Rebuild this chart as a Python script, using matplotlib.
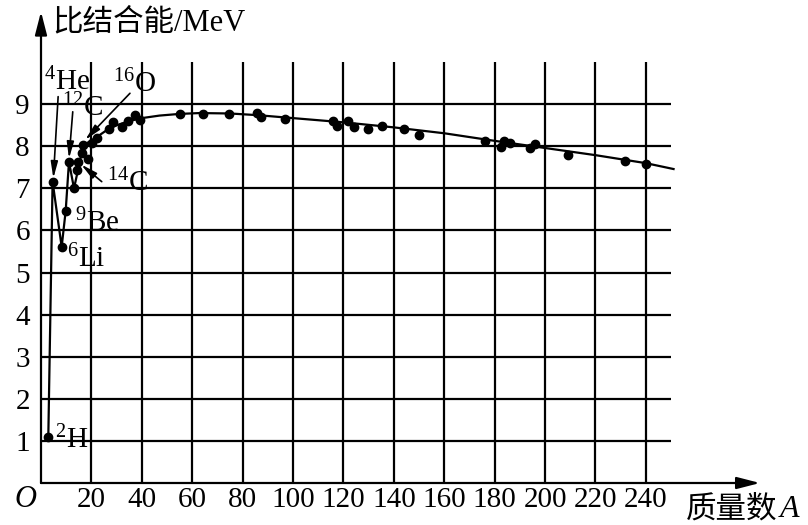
import matplotlib
matplotlib.use("Agg")
import matplotlib.pyplot as plt

plt.rcParams["font.family"] = ["Liberation Serif", "Noto Sans CJK SC"]
plt.rcParams["mathtext.fontset"] = "custom"
plt.rcParams["mathtext.rm"] = "Liberation Serif"
plt.rcParams["mathtext.it"] = "Liberation Serif:italic"

# mass number ticks and binding energy ticks
x_ticks = [20, 40, 60, 80, 100, 120, 140, 160, 180, 200, 220, 240]
y_ticks = [1, 2, 3, 4, 5, 6, 7, 8, 9]

# measured nuclides (mass number A, binding energy per nucleon in MeV)
point_a = [2.9, 4.6, 8.2, 9.8, 11.1, 13.1, 14.2, 14.8, 16.1, 16.8, 18.8, 20.1,
           22.1, 27.0, 28.7, 32.0, 34.6, 37.3, 39.3, 55.2, 64.2, 74.7, 85.6,
           87.3, 96.8, 116.0, 117.6, 122.0, 124.3, 129.9, 135.2, 144.0, 150.1,
           176.3, 182.4, 183.9, 186.1, 194.0, 196.0, 209.3, 231.7, 240.0]
point_e = [1.10, 7.16, 5.61, 6.47, 7.63, 7.00, 7.43, 7.63, 7.83, 8.03, 7.71, 8.07,
           8.19, 8.42, 8.58, 8.46, 8.61, 8.74, 8.62, 8.76, 8.76, 8.76, 8.78,
           8.70, 8.66, 8.60, 8.49, 8.60, 8.46, 8.42, 8.49, 8.41, 8.27,
           8.12, 7.99, 8.12, 8.07, 7.95, 8.05, 7.80, 7.66, 7.57]

# trend curve through the points
curve_a = [2.9, 4.6, 8.2, 9.8, 11.1, 13.1, 16.8, 19.5, 22.1, 26.0, 30.0, 35.0,
           40.0, 47.0, 55.0, 63.0, 75.0, 86.0, 100.0, 120.0, 140.0, 160.0,
           180.0, 200.0, 220.0, 240.0, 251.0]
curve_e = [1.10, 7.16, 5.61, 6.47, 7.63, 7.00, 8.03, 8.12, 8.22, 8.38, 8.50, 8.60,
           8.67, 8.73, 8.77, 8.79, 8.78, 8.74, 8.67, 8.57, 8.45, 8.31,
           8.13, 7.96, 7.79, 7.60, 7.46]

fig = plt.figure(figsize=(8.08, 5.25), dpi=100)
ax = fig.add_axes([41 / 808, 42 / 525, 719 / 808, 468 / 525])
ax.set_xlim(0, 285.3)
ax.set_ylim(0, 11.12)
for side in ["top", "right", "left", "bottom"]:
    ax.spines[side].set_visible(False)

lw = 1.6
ax.vlines(x_ticks, 0, 10, color="black", lw=lw)
ax.hlines(y_ticks, 0, 250, color="black", lw=lw)

# axes with arrow heads
axis_arrow = dict(arrowstyle="-|>,head_length=0.7,head_width=0.18",
                  color="black", lw=lw, mutation_scale=20, shrinkA=0, shrinkB=0)
ax.annotate("", xy=(285.3, 0), xytext=(0, 0), arrowprops=axis_arrow,
            annotation_clip=False)
ax.annotate("", xy=(0, 11.2), xytext=(0, 0), arrowprops=axis_arrow,
            annotation_clip=False)

ax.set_xticks(x_ticks)
ax.set_xticklabels([str(v) for v in x_ticks], fontsize=21)
ax.set_yticks(y_ticks)
ax.set_yticklabels([str(v) for v in y_ticks], fontsize=21)
ax.tick_params(length=0)
ax.tick_params(axis="x", pad=3)
ax.tick_params(axis="y", pad=8)

ax.plot(curve_a, curve_e, color="black", lw=1.6, clip_on=False)
ax.plot(point_a, point_e, "o", color="black", ms=6, clip_on=False)

ax.text(-6.3, -0.40, "O", fontsize=22, style="italic", ha="center", va="center",
        clip_on=False)
ax.text(4.3, 10.92, "比结合能/MeV", fontsize=22, ha="left", va="center",
        clip_on=False)
ax.text(256, -0.64, "质量数", fontsize=22, ha="left", va="center",
        clip_on=False)
ax.text(293, -0.64, "A", fontsize=23, style="italic", ha="left", va="center",
        clip_on=False)

label_size = 21
ax.text(10.3, 9.52, "$^{4}$He", fontsize=label_size, ha="center", va="center")
ax.text(16.3, 8.91, "$^{12}$C", fontsize=label_size, ha="center", va="center")
ax.text(37.3, 9.48, "$^{16}$O", fontsize=label_size, ha="center", va="center")
ax.text(34.3, 7.12, "$^{14}$C", fontsize=label_size, ha="center", va="center")
ax.text(22.4, 6.18, "$^{9}$Be", fontsize=label_size, ha="center", va="center")
ax.text(18.1, 5.32, "$^{6}$Li", fontsize=label_size, ha="center", va="center")
ax.text(12.0, 1.03, "$^{2}$H", fontsize=label_size, ha="center", va="center")

pointer = dict(arrowstyle="-|>,head_length=0.7,head_width=0.15",
               color="black", lw=1.2, mutation_scale=14, shrinkA=0, shrinkB=0)
ax.annotate("", xy=(4.9, 7.24), xytext=(6.8, 9.18), arrowprops=pointer)
ax.annotate("", xy=(11.1, 7.71), xytext=(12.6, 8.82), arrowprops=pointer)
ax.annotate("", xy=(17.5, 8.15), xytext=(35.3, 9.26), arrowprops=pointer)
ax.annotate("", xy=(15.9, 7.57), xytext=(24.1, 7.16), arrowprops=pointer)

fig.savefig("out.png", dpi=100, facecolor="white")
